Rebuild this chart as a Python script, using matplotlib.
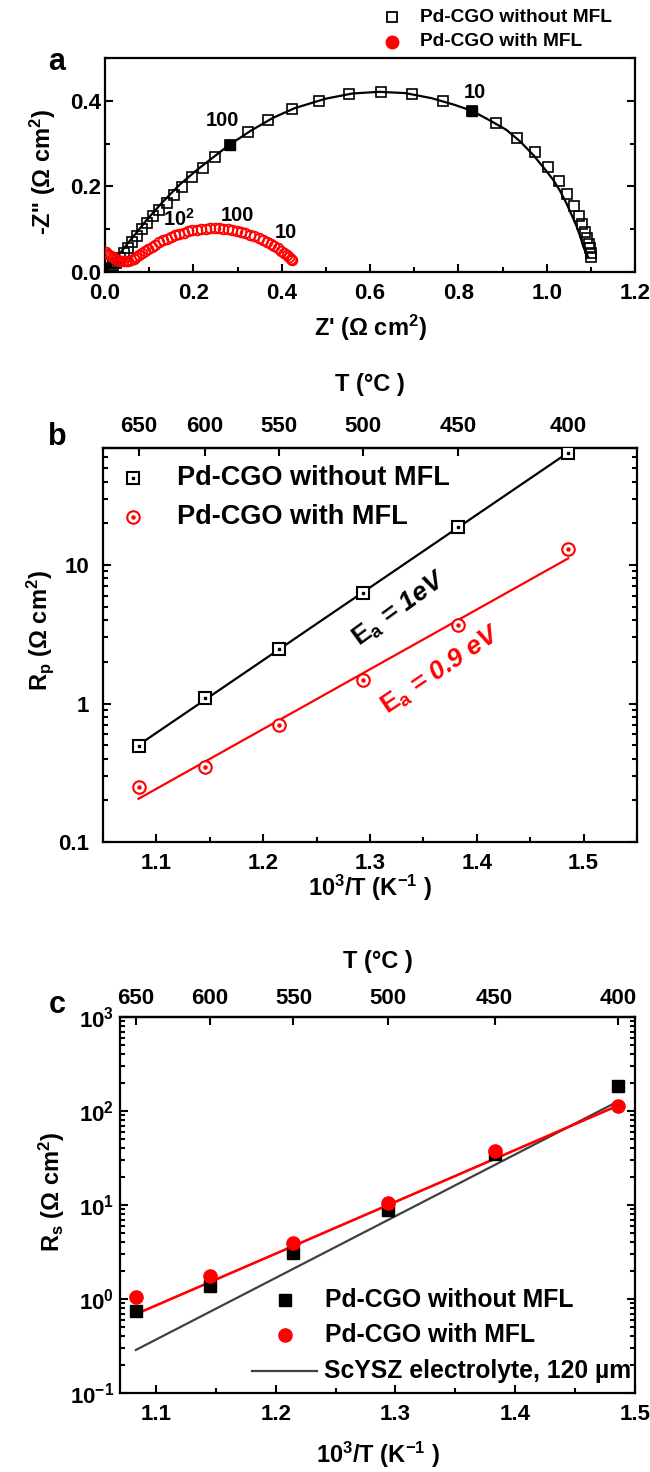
import numpy as np
import matplotlib
matplotlib.use("Agg")
import matplotlib.pyplot as plt
from matplotlib.lines import Line2D
from matplotlib.ticker import (MultipleLocator, FixedLocator, FixedFormatter,
                               LogLocator, NullFormatter, FormatStrFormatter)

plt.rcParams['font.family'] = ['Liberation Sans', 'DejaVu Sans']
plt.rcParams['font.weight'] = 'bold'
plt.rcParams['axes.labelweight'] = 'bold'
plt.rcParams['mathtext.fontset'] = 'custom'
plt.rcParams['mathtext.rm'] = 'Liberation Sans:bold'
plt.rcParams['mathtext.it'] = 'Liberation Sans:bold:italic'
plt.rcParams['mathtext.bf'] = 'Liberation Sans:bold'
plt.rcParams['mathtext.default'] = 'rm'

# ---------------- (a) Nyquist spectra ----------------
z_re_plain = [0.000, 0.004, 0.008, 0.013, 0.019, 0.026, 0.034, 0.043, 0.053, 0.060,
              0.072, 0.083, 0.094, 0.108, 0.123, 0.140, 0.156, 0.174, 0.196, 0.221,
              0.249, 0.283, 0.323, 0.370, 0.423, 0.485, 0.553, 0.625, 0.694, 0.765,
              0.830, 0.885, 0.932, 0.973, 1.004, 1.029, 1.047, 1.062, 1.074, 1.081,
              1.087, 1.092, 1.096, 1.098, 1.100, 1.100]
z_im_plain = [0.000, 0.003, 0.006, 0.010, 0.015, 0.022, 0.032, 0.044, 0.055, 0.069,
              0.084, 0.100, 0.114, 0.130, 0.145, 0.162, 0.180, 0.199, 0.221, 0.243,
              0.269, 0.297, 0.326, 0.354, 0.380, 0.400, 0.416, 0.421, 0.416, 0.400,
              0.377, 0.347, 0.314, 0.280, 0.245, 0.213, 0.182, 0.155, 0.132, 0.111,
              0.093, 0.079, 0.065, 0.055, 0.045, 0.036]
marked_re = [0.283, 0.830]
marked_im = [0.297, 0.377]

fit_re_plain = [0.000, 0.020, 0.050, 0.094, 0.130, 0.170, 0.210, 0.250, 0.283, 0.330,
                0.380, 0.430, 0.500, 0.560, 0.620, 0.680, 0.740, 0.790, 0.830, 0.870,
                0.909, 0.940, 0.970, 1.000, 1.015, 1.030, 1.045, 1.058, 1.068, 1.077,
                1.083, 1.089, 1.094]
fit_im_plain = [0.000, 0.025, 0.065, 0.121, 0.163, 0.205, 0.240, 0.272, 0.298, 0.330,
                0.360, 0.383, 0.405, 0.417, 0.421, 0.418, 0.406, 0.391, 0.377, 0.355,
                0.332, 0.305, 0.273, 0.235, 0.215, 0.190, 0.160, 0.130, 0.106, 0.080,
                0.059, 0.045, 0.035]

z_re_mfl = [0.002, 0.005, 0.009, 0.013, 0.018, 0.023, 0.029, 0.035, 0.041, 0.047,
            0.053, 0.059, 0.065, 0.071, 0.077, 0.084, 0.091, 0.098, 0.106, 0.114,
            0.122, 0.131, 0.140, 0.149, 0.158, 0.168, 0.178, 0.188, 0.198, 0.208,
            0.218, 0.228, 0.238, 0.248, 0.258, 0.268, 0.278, 0.288, 0.298, 0.308,
            0.318, 0.328, 0.338, 0.348, 0.357, 0.366, 0.375, 0.383, 0.391, 0.398,
            0.405, 0.411, 0.416, 0.420, 0.424]
z_im_mfl = [0.046, 0.043, 0.040, 0.037, 0.034, 0.031, 0.028, 0.026, 0.025, 0.025,
            0.026, 0.028, 0.031, 0.035, 0.039, 0.044, 0.049, 0.054, 0.059, 0.064,
            0.069, 0.074, 0.078, 0.082, 0.086, 0.089, 0.092, 0.095, 0.097, 0.099,
            0.100, 0.101, 0.102, 0.102, 0.102, 0.101, 0.100, 0.098, 0.096, 0.094,
            0.091, 0.087, 0.083, 0.079, 0.075, 0.070, 0.065, 0.060, 0.055, 0.050,
            0.045, 0.040, 0.035, 0.031, 0.027]

freq_labels = ['100', '10', r'10$^2$', '100', '10']
freq_label_re = [0.267, 0.838, 0.167, 0.300, 0.410]
freq_label_im = [0.353, 0.420, 0.124, 0.133, 0.093]

# ---------------- (b), (c) Arrhenius data ----------------
temp_c = [650, 600, 550, 500, 450, 400]
rp_plain = [0.49, 1.09, 2.47, 6.3, 18.9, 64.5]
rp_mfl = [0.25, 0.35, 0.70, 1.48, 3.7, 13.1]
rs_plain = [0.75, 1.38, 3.1, 8.8, 35, 184]
rs_mfl = [1.05, 1.75, 3.9, 10.5, 38, 112]
line_temp_c = [650, 400]
rs_mfl_fit = [0.69, 114]
rs_scysz = [0.287, 126]

names = ['Pd-CGO without MFL', 'Pd-CGO with MFL']


def inv_t(t):
    return 1000.0 / (np.asarray(t, dtype=float) + 273.15)


def to_celsius(x):
    x = np.asarray(x, dtype=float)
    with np.errstate(divide='ignore'):
        return 1000.0 / x - 273.15


W, H = 650, 1472
fig = plt.figure(figsize=(W / 100, H / 100), dpi=100)


def box(l, t, r, b):
    return [l / W, 1 - b / H, (r - l) / W, (b - t) / H]


def fx(x):
    return x / W


def fy(y):
    return 1 - y / H


def style_spines(ax):
    for s in ax.spines.values():
        s.set_linewidth(1.6)


TICK_FS = 16
LABEL_FS = 17

# ===== panel a =====
axa = fig.add_axes(box(105, 58, 635, 272))
style_spines(axa)
axa.plot(fit_re_plain, fit_im_plain, color='k', lw=1.6, zorder=2)
axa.plot(z_re_plain, z_im_plain, 's', ms=6.5, mfc='none', mec='k', mew=1.2, zorder=3)
axa.plot(marked_re, marked_im, 's', ms=6.5, color='k', zorder=4)
axa.plot(z_re_mfl, z_im_mfl, 'o', ms=7, mfc='none', mec='#ff0000', mew=1.3, zorder=3)
for s, xr, yi in zip(freq_labels, freq_label_re, freq_label_im):
    axa.text(xr, yi, s, fontsize=14.5, ha='center', va='center', zorder=5)
axa.set_xlim(0, 1.2)
axa.set_ylim(0, 0.5)
axa.xaxis.set_major_locator(MultipleLocator(0.2))
axa.xaxis.set_minor_locator(MultipleLocator(0.1))
axa.yaxis.set_major_locator(FixedLocator([0.0, 0.2, 0.4]))
axa.yaxis.set_minor_locator(MultipleLocator(0.1))
axa.xaxis.set_major_formatter(FormatStrFormatter('%.1f'))
axa.yaxis.set_major_formatter(FormatStrFormatter('%.1f'))
axa.tick_params(which='both', direction='in', top=False, right=True, width=1.5)
axa.tick_params(which='major', length=6)
axa.tick_params(which='minor', length=3.5)
axa.tick_params(axis='x', labelsize=TICK_FS, pad=8)
axa.tick_params(axis='y', labelsize=TICK_FS, pad=3)
axa.set_xlabel("Z' (Ω cm$^2$)", fontsize=LABEL_FS)
axa.xaxis.set_label_coords(0.5, -0.26)
axa.xaxis.label.set_va('center')
axa.set_ylabel("-Z'' (Ω cm$^2$)", fontsize=LABEL_FS)
axa.yaxis.set_label_coords(-0.118, 0.47)
axa.yaxis.label.set_va('center')
fig.text(fx(57), fy(62), 'a', fontsize=22, ha='center', va='center')

# legend above panel a
fig.add_artist(Line2D([fx(392)], [fy(17)], transform=fig.transFigure, marker='s', ms=7,
                      mfc='none', mec='k', mew=1.3, ls='none'))
fig.add_artist(Line2D([fx(392)], [fy(42)], transform=fig.transFigure, marker='o', ms=9,
                      color='#ff0000', ls='none'))
fig.text(fx(420), fy(17), names[0], fontsize=13.8, ha='left', va='center')
fig.text(fx(420), fy(42), names[1], fontsize=13.8, ha='left', va='center')


def add_temp_axis(ax, pad, labelpad):
    sec = ax.secondary_xaxis('top', functions=(to_celsius, inv_t))
    sec.set_xticks(temp_c)
    sec.xaxis.set_major_formatter(FormatStrFormatter('%d'))
    sec.tick_params(direction='in', length=6, width=1.5, labelsize=TICK_FS, pad=pad)
    sec.xaxis.set_minor_locator(FixedLocator([]))
    sec.set_xlabel('T (°C )', fontsize=LABEL_FS, labelpad=labelpad)
    for s in sec.spines.values():
        s.set_linewidth(1.6)
    return sec


# ===== panel b =====
x_pts = inv_t(temp_c)
axb = fig.add_axes(box(103, 448, 637, 842))
style_spines(axb)
axb.set_yscale('log')
for r, c in ((rp_plain, 'k'), (rp_mfl, '#ff0000')):
    k, b0 = np.polyfit(x_pts, np.log10(r), 1)
    axb.plot(x_pts[[0, -1]], 10 ** (b0 + k * x_pts[[0, -1]]), color=c, lw=1.6, zorder=2)
axb.plot(x_pts, rp_plain, 's', ms=8, mfc='white', mec='k', mew=1.5, zorder=3)
axb.plot(x_pts, rp_plain, 's', ms=2, color='k', zorder=4)
axb.plot(x_pts, rp_mfl, 'o', ms=9, mfc='white', mec='#ff0000', mew=1.5, zorder=3)
axb.plot(x_pts, rp_mfl, 'o', ms=2.2, color='#ff0000', zorder=4)
axb.set_xlim(1.05, 1.55)
axb.set_ylim(0.1, 70)
axb.xaxis.set_major_locator(MultipleLocator(0.1))
axb.xaxis.set_minor_locator(MultipleLocator(0.05))
axb.xaxis.set_major_formatter(FormatStrFormatter('%.1f'))
axb.yaxis.set_major_locator(FixedLocator([0.1, 1, 10]))
axb.yaxis.set_major_formatter(FixedFormatter(['0.1', '1', '10']))
axb.yaxis.set_minor_locator(LogLocator(base=10, subs=np.arange(2, 10)))
axb.yaxis.set_minor_formatter(NullFormatter())
axb.tick_params(which='both', direction='in', top=False, right=True, width=1.5)
axb.tick_params(which='major', length=6)
axb.tick_params(which='minor', length=3.5)
axb.tick_params(axis='x', labelsize=TICK_FS, pad=8)
axb.tick_params(axis='y', labelsize=TICK_FS, pad=10)
axb.set_xlabel('10$^3$/T (K$^{-1}$ )', fontsize=LABEL_FS)
axb.xaxis.set_label_coords(0.5, -0.117)
axb.xaxis.label.set_va('center')
axb.set_ylabel('R$_{\\rm p}$ (Ω cm$^2$)', fontsize=LABEL_FS)
axb.yaxis.set_label_coords(-0.118, 0.538)
axb.yaxis.label.set_va('center')
add_temp_axis(axb, 8, 18)
axb.text(1.328, 4.8, '$E_a$ = 1eV', fontsize=19, style='italic', color='k',
         rotation=36, ha='center', va='center', rotation_mode='anchor')
axb.text(1.367, 1.75, '$E_a$ = 0.9 eV', fontsize=19, style='italic', color='#ff0000',
         rotation=34, ha='center', va='center', rotation_mode='anchor')
fig.text(fx(57), fy(437), 'b', fontsize=22, ha='center', va='center')

# legend inside panel b
fig.add_artist(Line2D([fx(133)], [fy(478)], transform=fig.transFigure, marker='s', ms=8,
                      mfc='none', mec='k', mew=1.5, ls='none'))
fig.add_artist(Line2D([fx(133)], [fy(478)], transform=fig.transFigure, marker='s', ms=2,
                      color='k', ls='none'))
fig.add_artist(Line2D([fx(133)], [fy(517)], transform=fig.transFigure, marker='o', ms=9,
                      mfc='none', mec='#ff0000', mew=1.5, ls='none'))
fig.add_artist(Line2D([fx(133)], [fy(517)], transform=fig.transFigure, marker='o', ms=2.2,
                      color='#ff0000', ls='none'))
fig.text(fx(177), fy(478), names[0], fontsize=19.5, ha='left', va='center')
fig.text(fx(177), fy(517), names[1], fontsize=19.5, ha='left', va='center')

# ===== panel c =====
x_line = inv_t(line_temp_c)
axc = fig.add_axes(box(120, 1017, 635, 1393))
style_spines(axc)
axc.set_yscale('log')
axc.plot(x_line, rs_scysz, color='#404040', lw=1.6, zorder=2)
axc.plot(x_line, rs_mfl_fit, color='#ff0000', lw=1.9, zorder=2)
axc.plot(x_pts, rs_plain, 's', ms=8.5, color='k', zorder=3)
axc.plot(x_pts, rs_mfl, 'o', ms=9.5, color='#ff0000', zorder=4)
axc.set_xlim(1.07, 1.5)
axc.set_ylim(0.1, 1000)
axc.xaxis.set_major_locator(MultipleLocator(0.1))
axc.xaxis.set_minor_locator(MultipleLocator(0.05))
axc.xaxis.set_major_formatter(FormatStrFormatter('%.1f'))
axc.yaxis.set_major_locator(FixedLocator([0.1, 1, 10, 100, 1000]))
axc.yaxis.set_major_formatter(FixedFormatter(['10$^{-1}$', '10$^0$', '10$^1$',
                                              '10$^2$', '10$^3$']))
axc.yaxis.set_minor_locator(LogLocator(base=10, subs=np.arange(2, 10)))
axc.yaxis.set_minor_formatter(NullFormatter())
axc.tick_params(which='both', direction='in', top=False, right=True, width=1.5)
axc.tick_params(which='major', length=6)
axc.tick_params(which='minor', length=3.5)
axc.tick_params(axis='x', labelsize=TICK_FS, pad=8)
axc.tick_params(axis='y', labelsize=TICK_FS, pad=4)
axc.set_xlabel('10$^3$/T (K$^{-1}$ )', fontsize=LABEL_FS)
axc.xaxis.set_label_coords(0.5, -0.165)
axc.xaxis.label.set_va('center')
axc.set_ylabel('R$_{\\rm s}$ (Ω cm$^2$)', fontsize=LABEL_FS)
axc.yaxis.set_label_coords(-0.132, 0.535)
axc.yaxis.label.set_va('center')
add_temp_axis(axc, 6, 14)
fig.text(fx(57), fy(1005), 'c', fontsize=22, ha='center', va='center')

# legend inside panel c
fig.add_artist(Line2D([fx(285)], [fy(1300)], transform=fig.transFigure, marker='s', ms=8.5,
                      color='k', ls='none'))
fig.add_artist(Line2D([fx(285)], [fy(1335)], transform=fig.transFigure, marker='o', ms=9.5,
                      color='#ff0000', ls='none'))
fig.add_artist(Line2D([fx(252), fx(317)], [fy(1371), fy(1371)], transform=fig.transFigure,
                      color='#404040', lw=1.6))
fig.text(fx(325), fy(1300), names[0], fontsize=17.8, ha='left', va='center')
fig.text(fx(325), fy(1335), names[1], fontsize=17.8, ha='left', va='center')
fig.text(fx(324), fy(1371), 'ScYSZ electrolyte, 120 µm', fontsize=17.8, ha='left', va='center')

fig.savefig('out.png', dpi=100)
